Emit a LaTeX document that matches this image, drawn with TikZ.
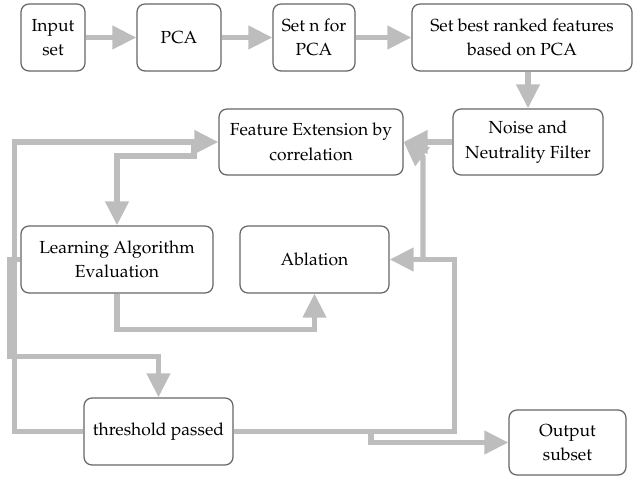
\documentclass[tikz,border=0pt]{standalone}
\usepackage[T1]{fontenc}
\usepackage{mathpazo}
\usetikzlibrary{arrows.meta}
\definecolor{conncol}{HTML}{BDBDBD}
\definecolor{boxcol}{HTML}{666666}
\begin{document}
\begin{tikzpicture}[x=0.75pt,y=-0.75pt,
  box/.style={draw=boxcol, line width=0.95pt, rounded corners=6pt, align=center,
    inner sep=2pt, font=\fontsize{13.1}{18.5}\selectfont},
  sz/.style 2 args={minimum width=#1*0.75pt, minimum height=#2*0.75pt},
  conn/.style={draw=conncol, line width=3.9pt, -{Triangle[length=18pt,width=17pt]}}]
\useasboundingbox (0,0) rectangle (633,477);

\node[box, sz={64}{67}]  (in)    at (53,37.5)    {Input\\set};
\node[box, sz={84}{67}]  (pca)   at (179,37.5)   {PCA};
\node[box, sz={82}{67}]  (setn)  at (314,37.5)   {Set n for\\PCA};
\node[box, sz={220}{67}] (best)  at (522,37.5)   {Set best ranked features\\based on PCA};
\node[box, sz={150}{66}] (noise) at (528,142)    {Noise and\\Neutrality Filter};
\node[box, sz={184}{66}] (fe)    at (311,142)    {Feature Extension by\\correlation};
\node[box, sz={192}{67}] (learn) at (117,259.5)  {Learning Algorithm\\Evaluation};
\node[box, sz={149}{67}] (abl)   at (314.5,259.5){Ablation};
\node[box, sz={149}{67}] (thr)   at (158.5,431.5){threshold passed};
\node[box, sz={117}{65}] (out)   at (567.5,442.5){Output\\subset};

\draw[conn] (in) -- (pca);
\draw[conn] (pca) -- (setn);
\draw[conn] (setn) -- (best);
\draw[conn] (best.south -| noise.north) -- (noise.north);
\draw[conn] (noise.west) -- (fe.east);

\draw[conn] (thr.east) -- (454.5,431.5) -- (454.5,259.5) -- (abl.east);
\draw[conn] (423,259.5) -- (423,157) -- (fe.east);
\draw[conn] (371,431.5) -- (371,442.5) -- (out.west);

\draw[conn] (learn.south) -- (117,329.5) -- (314.5,329.5) -- (abl.south);
\draw[conn] (learn.west) -- (9.5,259.5) -- (9.5,356.5) -- (158.5,356.5) -- (thr.north);
\draw[conn] (thr.west) -- (14.5,431.5) -- (14.5,142) -- (fe.west);
\draw[conn] (194,142) -- (194,156) -- (117,156) -- (learn.north);
\end{tikzpicture}
\end{document}
